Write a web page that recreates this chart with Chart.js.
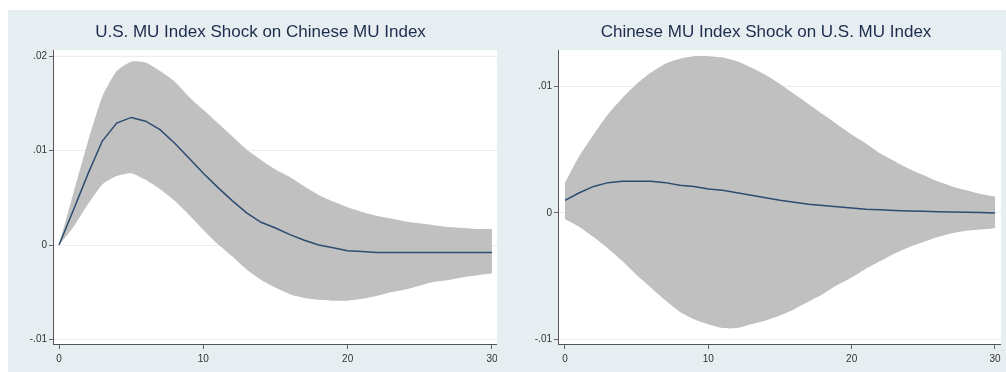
<!DOCTYPE html>
<html>
<head>
<meta charset="utf-8">
<script src="https://cdn.jsdelivr.net/npm/chart.js@4.4.1/dist/chart.umd.min.js"></script>
<style>
  body { margin: 0; background: #ffffff; width: 1006px; height: 372px; overflow: hidden; position: relative; }
  #panel { position: absolute; left: 8px; top: 10px; width: 998px; height: 362px; background: #e7eef1; }
  #usChart { position: absolute; left: 24px; top: 10px; }
  #cnChart { position: absolute; left: 531px; top: 10px; }
</style>
</head>
<body>
<div id="panel"></div>
<canvas id="usChart" width="473" height="362"></canvas>
<canvas id="cnChart" width="470" height="362"></canvas>

<script>
// horizon (steps after the shock)
const steps = [0, 1, 2, 3, 4, 5, 6, 7, 8, 9, 10, 11, 12, 13, 14, 15, 16, 17, 18, 19, 20, 21, 22, 23, 24, 25, 26, 27, 28, 29, 30];

// U.S. MU index shock on Chinese MU index
const usMean  = [0, 0.0037, 0.0075, 0.0110, 0.0129, 0.0135, 0.0131, 0.0122, 0.0108, 0.0092, 0.0076, 0.0061, 0.0047, 0.0034, 0.0024, 0.0018, 0.0011, 0.0005, 0.0000, -0.0003, -0.0006, -0.0007, -0.0008, -0.0008, -0.0008, -0.0008, -0.0008, -0.0008, -0.0008, -0.0008, -0.0008];
const usUpper = [0, 0.0055, 0.0109, 0.0157, 0.0184, 0.0194, 0.0193, 0.0184, 0.0173, 0.0157, 0.0143, 0.0129, 0.0115, 0.0101, 0.0090, 0.0080, 0.0072, 0.0062, 0.0053, 0.0046, 0.0040, 0.0035, 0.0031, 0.0028, 0.0025, 0.0023, 0.0021, 0.0019, 0.0018, 0.0017, 0.0017];
const usLower = [0, 0.0019, 0.0043, 0.0064, 0.0073, 0.0076, 0.0069, 0.0059, 0.0047, 0.0032, 0.0016, 0.0001, -0.0012, -0.0026, -0.0037, -0.0045, -0.0052, -0.0056, -0.0058, -0.0059, -0.0059, -0.0057, -0.0054, -0.0050, -0.0047, -0.0043, -0.0039, -0.0037, -0.0034, -0.0032, -0.0030];

// Chinese MU index shock on U.S. MU index
const cnMean  = [0.0010, 0.0016, 0.0021, 0.0024, 0.0025, 0.0025, 0.0025, 0.0024, 0.0022, 0.0021, 0.0019, 0.0018, 0.0016, 0.0014, 0.0012, 0.0010, 0.00085, 0.0007, 0.0006, 0.0005, 0.0004, 0.0003, 0.00026, 0.0002, 0.00016, 0.00013, 0.0001, 0.00008, 0.00005, 0.00003, 0];
const cnUpper = [0.0024, 0.0045, 0.0062, 0.0078, 0.0091, 0.0102, 0.0111, 0.0118, 0.0122, 0.0124, 0.0124, 0.0123, 0.0120, 0.0115, 0.0109, 0.0102, 0.0094, 0.0086, 0.0078, 0.0070, 0.0062, 0.0055, 0.0047, 0.0041, 0.0035, 0.0030, 0.0025, 0.0021, 0.0018, 0.0015, 0.0013];
const cnLower = [-0.0005, -0.0011, -0.0019, -0.0028, -0.0038, -0.0049, -0.0059, -0.0069, -0.0078, -0.0084, -0.0088, -0.0091, -0.0091, -0.0088, -0.0085, -0.0081, -0.0076, -0.0070, -0.0064, -0.0057, -0.0051, -0.0044, -0.0038, -0.0032, -0.0027, -0.0023, -0.0019, -0.0016, -0.0014, -0.0013, -0.0012];

// tick labels
const xTicks = [0, 10, 20, 30];
const usYTicks = [-0.01, 0, 0.01, 0.02];
const cnYTicks = [-0.01, 0, 0.01];

// stata style numbers: .01, -.01
function stataNum(v) {
    if (Math.abs(v) < 1e-9) return '0';
    return String(+v.toFixed(3)).replace('0.', '.');
}

function toPoints(ys) {
    return steps.map((s, i) => ({ x: s, y: ys[i] }));
}

// white plot region like stata
const plotBg = {
    id: 'plotBg',
    beforeDraw(chart) {
        const a = chart.chartArea;
        const ctx = chart.ctx;
        ctx.save();
        ctx.fillStyle = '#ffffff';
        ctx.fillRect(a.left, a.top, a.right - a.left, a.bottom - a.top);
        ctx.restore();
    }
};

function drawIrf(id, title, mean, upper, lower, yRange, yTicks, xRange, yAxisWidth) {
    const ctx = document.getElementById(id).getContext('2d');
    new Chart(ctx, {
        type: 'line',
        data: {
            datasets: [
                // the irf line goes on top of the band
                { data: toPoints(mean), borderColor: '#2c4c70', borderWidth: 1.5, pointRadius: 0, fill: false, tension: 0, order: 0 },
                { data: toPoints(upper), borderWidth: 0, pointRadius: 0, backgroundColor: '#c0c0c0', fill: '+1', tension: 0.2, order: 1 },
                { data: toPoints(lower), borderWidth: 0, pointRadius: 0, backgroundColor: '#c0c0c0', fill: false, tension: 0.2, order: 2 }
            ]
        },
        options: {
            responsive: false,
            animation: false,
            devicePixelRatio: 1,
            layout: { padding: 0 },
            plugins: {
                legend: { display: false },
                tooltip: { enabled: false },
                title: {
                    display: true,
                    text: title,
                    color: '#1d2b4c',
                    font: { family: 'Liberation Sans, Arial, sans-serif', size: 17, weight: 'normal', lineHeight: 1 },
                    padding: { top: 14, bottom: 9 }
                }
            },
            scales: {
                x: {
                    type: 'linear',
                    min: xRange[0],
                    max: xRange[1],
                    afterBuildTicks: scale => { scale.ticks = xTicks.map(v => ({ value: v })); },
                    afterFit: scale => { scale.height = 28; scale.paddingLeft = 0; scale.paddingRight = 0; },
                    grid: { drawOnChartArea: false, drawTicks: true, tickLength: 5, tickColor: '#666666' },
                    border: { display: true, color: '#555555', width: 1 },
                    ticks: { color: '#333333', padding: 4, maxRotation: 0, font: { family: 'Liberation Sans, Arial, sans-serif', size: 10 }, callback: v => stataNum(v) }
                },
                y: {
                    min: yRange[0],
                    max: yRange[1],
                    afterBuildTicks: scale => { scale.ticks = yTicks.map(v => ({ value: v })); },
                    afterFit: scale => { scale.width = yAxisWidth; scale.paddingTop = 0; scale.paddingBottom = 0; },
                    grid: { color: '#e6eff1', lineWidth: 1, drawTicks: true, tickLength: 4, tickColor: '#666666' },
                    border: { display: true, color: '#555555', width: 1 },
                    ticks: { color: '#333333', padding: 2, font: { family: 'Liberation Sans, Arial, sans-serif', size: 10 }, callback: v => stataNum(v) }
                }
            }
        },
        plugins: [plotBg]
    });
}

drawIrf('usChart', 'U.S. MU Index Shock on Chinese MU Index', usMean, usUpper, usLower,
    [-0.010476, 0.020635], usYTicks, [-0.416, 30.35], 29);

drawIrf('cnChart', 'Chinese MU Index Shock on U.S. MU Index', cnMean, cnUpper, cnLower,
    [-0.010356, 0.012885], cnYTicks, [-0.488, 30.42], 27);
</script>
</body>
</html>
